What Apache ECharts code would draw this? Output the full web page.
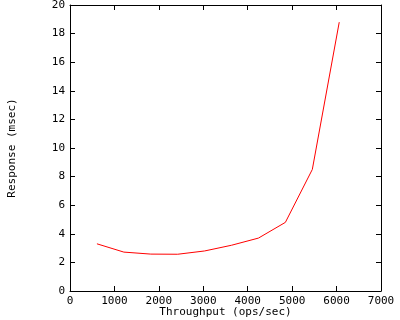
<!DOCTYPE html>
<html><head><meta charset="utf-8">
<script src="https://cdn.jsdelivr.net/npm/echarts@6/dist/echarts.min.js"></script>
<style>html,body{margin:0;padding:0;background:#fff}#c{width:400px;height:320px}</style>
</head><body><div id="c"></div>
<script>
const throughput = [606, 1212, 1818, 2424, 3030, 3636, 4242, 4848, 5454, 6060];
const response = [3.3, 2.72, 2.58, 2.57, 2.8, 3.2, 3.7, 4.8, 8.5, 18.8];
const xTitle = 'Throughput (ops/sec)';
const yTitle = 'Response (msec)';
const font = 'DejaVu Sans Mono';
const axisCommon = {
  axisLine: {show: true, onZero: false, lineStyle: {color: '#000', width: 1}},
  axisTick: {show: true, inside: true, length: 5, lineStyle: {color: '#000'}},
  splitLine: {show: false}
};
const chart = echarts.init(document.getElementById('c'), null, {renderer: 'canvas'});
chart.setOption({
  animation: false,
  backgroundColor: '#fff',
  grid: {left: 70, right: 19, top: 5, bottom: 29, containLabel: false, outerBoundsMode: 'none'},
  xAxis: [
    Object.assign({type: 'value', min: 0, max: 7000, interval: 1000, position: 'bottom',
      name: xTitle, nameLocation: 'middle', nameGap: 16, nameMoveOverlap: false,
      nameTextStyle: {fontFamily: font, fontSize: 11, color: '#000'},
      axisLabel: {fontFamily: font, fontSize: 11, color: '#000', margin: 5, formatter: v => String(v)}}, axisCommon),
    Object.assign({type: 'value', min: 0, max: 7000, interval: 1000, position: 'top',
      axisLabel: {show: false}}, axisCommon)
  ],
  yAxis: [
    Object.assign({type: 'value', min: 0, max: 20, interval: 2, position: 'left',
      name: yTitle, nameLocation: 'middle', nameGap: 52, nameRotate: 90, nameMoveOverlap: false,
      nameTextStyle: {fontFamily: font, fontSize: 11, color: '#000'},
      axisLabel: {fontFamily: font, fontSize: 11, color: '#000', margin: 5, formatter: v => String(v)}}, axisCommon),
    Object.assign({type: 'value', min: 0, max: 20, interval: 2, position: 'right',
      axisLabel: {show: false}}, axisCommon)
  ],
  series: [{
    type: 'line', data: throughput.map((x, i) => [x, response[i]]),
    showSymbol: false, symbol: 'none',
    lineStyle: {color: '#ff0000', width: 1}, itemStyle: {color: '#ff0000'}
  }]
});
</script></body></html>
